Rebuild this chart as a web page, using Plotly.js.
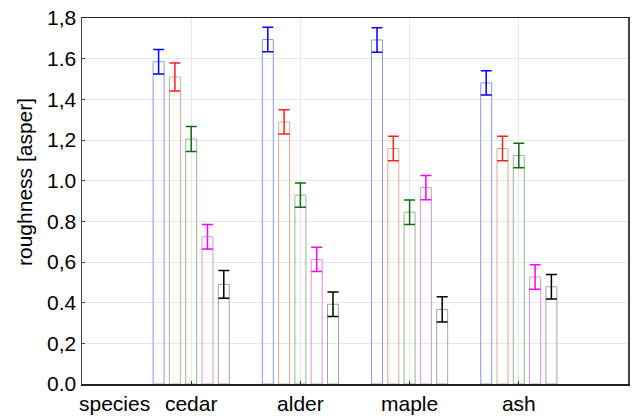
<!DOCTYPE html>
<html>
<head>
<meta charset="utf-8">
<script src="https://cdn.plot.ly/plotly-3.0.1.min.js"></script>
<style>html,body{margin:0;padding:0;background:#fff;}#chart{width:635px;height:416px;}</style>
</head>
<body>
<div id="chart"></div>
<script>
const categories = ["cedar", "alder", "maple", "ash"];
const seriesNames = ["s1", "s2", "s3", "s4", "s5"];
const means = [
  [1.585, 1.694, 1.692, 1.481],
  [1.510, 1.289, 1.158, 1.158],
  [1.205, 0.929, 0.845, 1.124],
  [0.724, 0.613, 0.966, 0.526],
  [0.490, 0.392, 0.367, 0.478]
];
const errs = [
  [0.060, 0.060, 0.060, 0.060],
  [0.069, 0.060, 0.060, 0.060],
  [0.061, 0.060, 0.060, 0.060],
  [0.060, 0.060, 0.060, 0.060],
  [0.068, 0.060, 0.062, 0.060]
];
const yTickVals = [0, 0.2, 0.4, 0.6, 0.8, 1.0, 1.2, 1.4, 1.6, 1.8];
const yTickText = ["0.0", "0,2", "0.4", "0,6", "0.8", "1.0", "1,2", "1,4", "1.6", "1,8"];
const outlineColors = ["#8c98e4", "#dba891", "#8fb98f", "#dd92dd", "#a2a2a2"];
const errColors = ["#0000ff", "#ff2020", "#106a10", "#ff00ff", "#000000"];

const traces = seriesNames.map((n, i) => ({
  type: "bar",
  name: n,
  x: categories,
  y: means[i],
  marker: { color: "rgba(0,0,0,0)", line: { color: outlineColors[i], width: 1 } },
  error_y: { type: "data", array: errs[i], visible: true, color: errColors[i], thickness: 1.5, width: 5.5 },
  hoverinfo: "none"
}));

const font = { family: "Liberation Sans, Arial, sans-serif", color: "#000" };

const layout = {
  width: 635, height: 416,
  margin: { l: 82, r: 7, t: 18, b: 32 },
  paper_bgcolor: "#fff", plot_bgcolor: "#fff",
  showlegend: false,
  barmode: "group",
  bargap: 0.254,
  bargroupgap: 0.325,
  font: Object.assign({ size: 20 }, font),
  xaxis: {
    type: "category",
    range: [-1, 4],
    showgrid: true, gridcolor: "#e8e8e8",
    showline: true, linecolor: "#222", linewidth: 1.5, mirror: true,
    ticks: "inside", ticklen: 3, tickcolor: "#333",
    tickfont: Object.assign({ size: 21 }, font),
    zeroline: false
  },
  yaxis: {
    range: [0, 1.8],
    tickvals: yTickVals, ticktext: yTickText,
    showgrid: true, gridcolor: "#e8e8e8",
    showline: true, linecolor: "#444", linewidth: 1.5, mirror: true,
    ticks: "inside", ticklen: 3, tickcolor: "#444",
    tickfont: Object.assign({ size: 21 }, font),
    zeroline: false
  },
  annotations: [{
    text: "species", xref: "paper", yref: "paper",
    x: (114 - 82) / 546, y: 0, yshift: -19, xanchor: "center", yanchor: "middle",
    showarrow: false, font: Object.assign({ size: 21 }, font)
  }, {
    text: "roughness [asper]", xref: "paper", yref: "paper",
    x: (24 - 82) / 546, y: (384 - 182) / 366, xanchor: "center", yanchor: "middle",
    textangle: -90, showarrow: false, font: Object.assign({ size: 21 }, font)
  }]
};

Plotly.newPlot("chart", traces, layout, { staticPlot: true, displayModeBar: false });
</script>
</body>
</html>
